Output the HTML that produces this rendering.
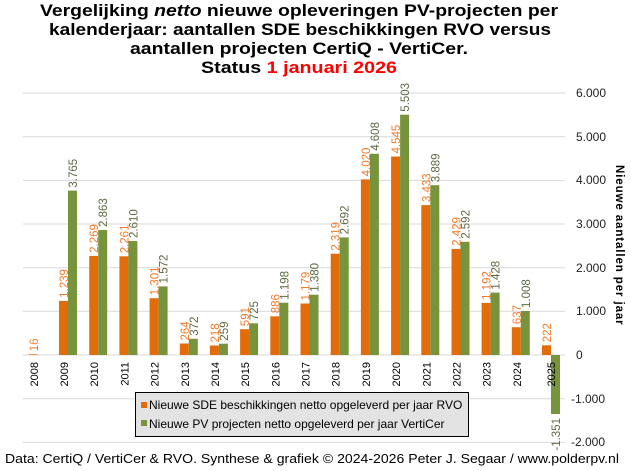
<!DOCTYPE html>
<html><head><meta charset="utf-8"><style>
html,body{margin:0;padding:0;background:#fff;}
svg{display:block;font-family:"Liberation Sans",sans-serif;}
.o{fill:#e36c0a}.g{fill:#77933c}
.lo{fill:#f47a2a;font-size:11.5px}.lg{fill:#5d6b45;font-size:11.5px}
.yr{font-size:11px;fill:#000;text-anchor:end}
.tk{font-size:12px;fill:#222}
.t{font-weight:bold;font-size:17px;fill:#000;text-anchor:middle}
</style></head><body>
<svg width="631" height="471" viewBox="0 0 631 471">
<rect width="631" height="471" fill="#fff"/>
<g stroke="#d9d9d9" stroke-width="1">
<line x1="23" x2="565" y1="93" y2="93"/><line x1="23" x2="565" y1="136.7" y2="136.7"/>
<line x1="23" x2="565" y1="180.4" y2="180.4"/><line x1="23" x2="565" y1="224" y2="224"/>
<line x1="23" x2="565" y1="267.7" y2="267.7"/><line x1="23" x2="565" y1="311.3" y2="311.3"/>
<line x1="23" x2="565" y1="355" y2="355"/><line x1="23" x2="565" y1="398.7" y2="398.7"/>
<line x1="23" x2="565" y1="442.4" y2="442.4"/>
</g>
<g class="tk">
<text x="576" y="97">6.000</text><text x="576" y="141">5.000</text>
<text x="576" y="184">4.000</text><text x="576" y="228">3.000</text>
<text x="576" y="272">2.000</text><text x="576" y="315">1.000</text>
<text x="576" y="359">0</text><text x="571" y="403">-1.000</text>
<text x="571" y="446">-2.000</text>
</g>
<text transform="translate(616,165) rotate(90)" style="font-weight:bold;font-size:11.5px;letter-spacing:0.9px" fill="#000">Nieuwe aantallen per jaar</text>

<g>
<rect class="o" x="28.8" y="354.3" width="9" height="0.7"/>
<rect class="o" x="59" y="300.9" width="9" height="54.1"/><rect class="g" x="68" y="190.6" width="9" height="164.4"/>
<rect class="o" x="89.2" y="255.9" width="9" height="99.1"/><rect class="g" x="98.2" y="230" width="9" height="125"/>
<rect class="o" x="119.4" y="256.3" width="9" height="98.7"/><rect class="g" x="128.4" y="241" width="9" height="114"/>
<rect class="o" x="149.6" y="298.2" width="9" height="56.8"/><rect class="g" x="158.6" y="286.4" width="9" height="68.6"/>
<rect class="o" x="179.8" y="343.5" width="9" height="11.5"/><rect class="g" x="188.8" y="338.8" width="9" height="16.2"/>
<rect class="o" x="209.9" y="345.5" width="9" height="9.5"/><rect class="g" x="218.9" y="343.7" width="9" height="11.3"/>
<rect class="o" x="240.1" y="329.2" width="9" height="25.8"/><rect class="g" x="249.1" y="323.3" width="9" height="31.7"/>
<rect class="o" x="270.3" y="316.3" width="9" height="38.7"/><rect class="g" x="279.3" y="302.7" width="9" height="52.3"/>
<rect class="o" x="300.5" y="303.5" width="9" height="51.5"/><rect class="g" x="309.5" y="294.7" width="9" height="60.3"/>
<rect class="o" x="330.7" y="253.7" width="9" height="101.3"/><rect class="g" x="339.7" y="237.4" width="9" height="117.6"/>
<rect class="o" x="360.9" y="179.4" width="9" height="175.6"/><rect class="g" x="369.9" y="153.8" width="9" height="201.2"/>
<rect class="o" x="391.1" y="156.5" width="9" height="198.5"/><rect class="g" x="400.1" y="114.7" width="9" height="240.3"/>
<rect class="o" x="421.3" y="205.1" width="9" height="149.9"/><rect class="g" x="430.3" y="185.2" width="9" height="169.8"/>
<rect class="o" x="451.5" y="248.9" width="9" height="106.1"/><rect class="g" x="460.5" y="241.8" width="9" height="113.2"/>
<rect class="o" x="481.6" y="302.9" width="9" height="52.1"/><rect class="g" x="490.6" y="292.6" width="9" height="62.4"/>
<rect class="o" x="511.8" y="327.2" width="9" height="27.8"/><rect class="g" x="520.8" y="311" width="9" height="44"/>
<rect class="o" x="542" y="345.3" width="9" height="9.7"/><rect class="g" x="551" y="355" width="9" height="59"/>
</g>

<g class="lo">
<text transform="translate(37.8,351.3) rotate(-90)">16</text>
<text transform="translate(68,297.9) rotate(-90)">1.239</text>
<text transform="translate(98.2,252.9) rotate(-90)">2.269</text>
<text transform="translate(128.4,253.3) rotate(-90)">2.261</text>
<text transform="translate(158.6,295.2) rotate(-90)">1.301</text>
<text transform="translate(188.8,340.5) rotate(-90)">264</text>
<text transform="translate(218.9,342.5) rotate(-90)">218</text>
<text transform="translate(249.1,326.2) rotate(-90)">591</text>
<text transform="translate(279.3,313.3) rotate(-90)">886</text>
<text transform="translate(309.5,300.5) rotate(-90)">1.179</text>
<text transform="translate(339.7,250.7) rotate(-90)">2.319</text>
<text transform="translate(369.9,176.4) rotate(-90)">4.020</text>
<text transform="translate(400.1,153.5) rotate(-90)">4.545</text>
<text transform="translate(430.3,202.1) rotate(-90)">3.433</text>
<text transform="translate(460.5,245.9) rotate(-90)">2.429</text>
<text transform="translate(490.6,299.9) rotate(-90)">1.192</text>
<text transform="translate(520.8,324.2) rotate(-90)">637</text>
<text transform="translate(551,342.3) rotate(-90)">222</text>
</g>
<g class="lg">
<text transform="translate(77,187.6) rotate(-90)">3.765</text>
<text transform="translate(107.2,227) rotate(-90)">2.863</text>
<text transform="translate(137.4,238) rotate(-90)">2.610</text>
<text transform="translate(167.6,283.4) rotate(-90)">1.572</text>
<text transform="translate(197.8,335.8) rotate(-90)">372</text>
<text transform="translate(227.9,340.7) rotate(-90)">259</text>
<text transform="translate(258.1,320.3) rotate(-90)">725</text>
<text transform="translate(288.3,299.7) rotate(-90)">1.198</text>
<text transform="translate(318.5,291.7) rotate(-90)">1.380</text>
<text transform="translate(348.7,234.4) rotate(-90)">2.692</text>
<text transform="translate(378.9,150.8) rotate(-90)">4.608</text>
<text transform="translate(409.1,111.7) rotate(-90)">5.503</text>
<text transform="translate(439.3,182.2) rotate(-90)">3.889</text>
<text transform="translate(469.5,238.8) rotate(-90)">2.592</text>
<text transform="translate(499.6,289.6) rotate(-90)">1.428</text>
<text transform="translate(529.8,308) rotate(-90)">1.008</text>
<text transform="translate(560,418) rotate(-90)" text-anchor="end">-1.351</text>
</g>

<g class="yr">
<text transform="translate(37.8,362) rotate(-90)">2008</text>
<text transform="translate(68,362) rotate(-90)">2009</text>
<text transform="translate(98.2,362) rotate(-90)">2010</text>
<text transform="translate(128.4,362) rotate(-90)">2011</text>
<text transform="translate(158.6,362) rotate(-90)">2012</text>
<text transform="translate(188.8,362) rotate(-90)">2013</text>
<text transform="translate(218.9,362) rotate(-90)">2014</text>
<text transform="translate(249.1,362) rotate(-90)">2015</text>
<text transform="translate(279.3,362) rotate(-90)">2016</text>
<text transform="translate(309.5,362) rotate(-90)">2017</text>
<text transform="translate(339.7,362) rotate(-90)">2018</text>
<text transform="translate(369.9,362) rotate(-90)">2019</text>
<text transform="translate(400.1,362) rotate(-90)">2020</text>
<text transform="translate(430.3,362) rotate(-90)">2021</text>
<text transform="translate(460.5,362) rotate(-90)">2022</text>
<text transform="translate(490.6,362) rotate(-90)">2023</text>
<text transform="translate(520.8,362) rotate(-90)">2024</text>
<text transform="translate(555,362) rotate(-90)">2025</text>
</g>

<rect x="135.5" y="392.5" width="333" height="44" fill="#e3e3e3" stroke="#000" stroke-width="1"/>
<rect x="141" y="402" width="6" height="6" class="o"/>
<rect x="141" y="420" width="6" height="6" class="g"/>
<text x="149" y="409" style="font-size:12px" fill="#000">Nieuwe SDE beschikkingen netto opgeleverd per jaar RVO</text>
<text x="149" y="428" style="font-size:12px" fill="#000">Nieuwe PV projecten netto opgeleverd per jaar VertiCer</text>

<text x="5" y="463" style="font-size:13px" fill="#000" textLength="614" lengthAdjust="spacingAndGlyphs">Data: CertiQ / VertiCer &amp; RVO. Synthese &amp; grafiek © 2024-2026 Peter J. Segaar / www.polderpv.nl</text>

<text class="t" x="299" y="16" textLength="518" lengthAdjust="spacingAndGlyphs">Vergelijking <tspan font-style="italic">netto</tspan> nieuwe opleveringen PV-projecten per</text>
<text class="t" x="300" y="35" textLength="502" lengthAdjust="spacingAndGlyphs">kalenderjaar: aantallen SDE beschikkingen RVO versus</text>
<text class="t" x="299" y="54" textLength="338" lengthAdjust="spacingAndGlyphs">aantallen projecten CertiQ - VertiCer.</text>
<text class="t" x="299" y="73" textLength="196" lengthAdjust="spacingAndGlyphs">Status <tspan fill="#ff0000">1 januari 2026</tspan></text>
</svg>
</body></html>
